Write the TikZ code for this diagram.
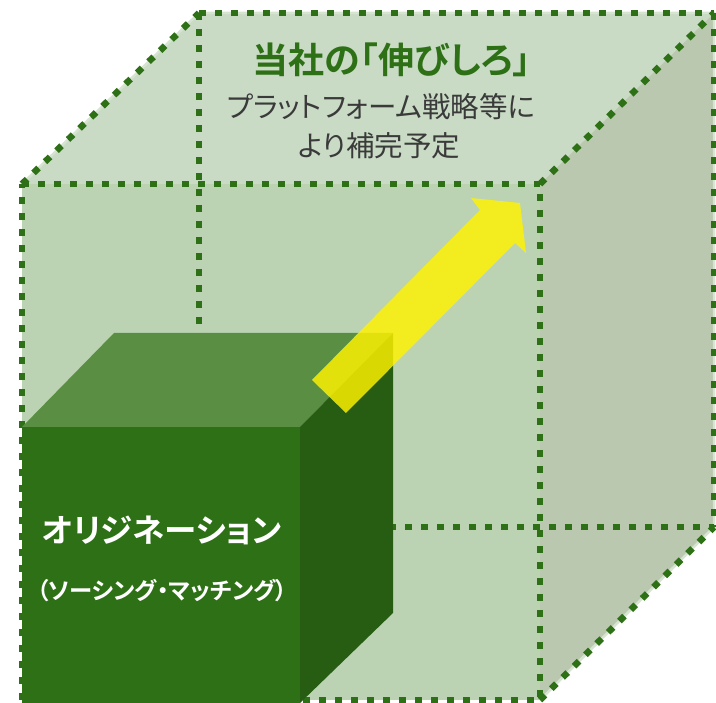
\documentclass[tikz,border=0pt]{standalone}
\usepackage{fontspec}
\newfontfamily\jp{Noto Sans CJK JP}[BoldFont={Noto Sans CJK JP Bold}, RawFeature=+palt]
\definecolor{linegreen}{RGB}{46,112,22}
\definecolor{topc}{RGB}{201,219,197}
\definecolor{frontc}{RGB}{187,211,179}
\definecolor{sidec}{RGB}{185,200,174}
\definecolor{lightedge}{RGB}{214,228,209}
\definecolor{cubefront}{RGB}{46,112,21}
\definecolor{cubetop}{RGB}{90,143,67}
\definecolor{cubeside}{RGB}{39,93,18}
\definecolor{bodytext}{RGB}{58,58,58}
\tikzset{
  dotedge/.style={draw=linegreen, line width=6.5pt, dash pattern=on 7pt off 9pt},
  softedge/.style={draw=lightedge, line width=2.5pt},
  titletext/.style={font=\jp\bfseries\fontsize{36}{40}\selectfont, text=linegreen, inner sep=0pt},
  bodytextstyle/.style={font=\jp\fontsize{28.5}{32}\selectfont, text=bodytext, inner sep=0pt},
  cubetext/.style={font=\jp\bfseries\fontsize{32.5}{36}\selectfont, text=white, inner sep=0pt},
  cubesub/.style={font=\jp\bfseries\fontsize{23.4}{28}\selectfont, text=white, inner sep=0pt}
}
\begin{document}
\begin{tikzpicture}[x=1pt,y=-1pt]
\useasboundingbox (0,0) rectangle (716,703);
% big cube corners
\coordinate (F1) at (22,184);
\coordinate (F2) at (540,184);
\coordinate (F3) at (540,700);
\coordinate (F4) at (22,700);
\coordinate (B1) at (199,13);
\coordinate (B2) at (714,13);
\coordinate (B3) at (714,527);
\coordinate (B4) at (199,527);
% faces
\fill[topc] (F1)--(B1)--(B2)--(F2)--cycle;
\fill[frontc] (F1) rectangle (F3);
\fill[sidec] (F2)--(B2)--(B3)--(F3)--cycle;
\draw[softedge] (F1)--(B1)--(B2)--(B3)--(F3);
% hidden/back edges
\draw[dotedge] (B1)--(B4)--(B3);
\draw[dotedge] (B4)--(F4);
% front and outer edges
\draw[dotedge] (F1)--(F2)--(F3)--(F4)--cycle;
\draw[dotedge] (F1)--(B1);
\draw[dotedge] (B1)--(B2);
\draw[dotedge] (F2)--(B2);
\draw[dotedge] (B2)--(B3);
\draw[dotedge] (F3)--(B3);
% small cube
\coordinate (S1) at (22,427);
\coordinate (S2) at (300,427);
\coordinate (S3) at (300,703);
\coordinate (S4) at (22,703);
\coordinate (T1) at (114,333);
\coordinate (T2) at (393,333);
\coordinate (T3) at (393,613);
\fill[cubetop] (S1)--(T1)--(T2)--(S2)--cycle;
\fill[cubeside] (S2)--(T2)--(T3)--(S3)--cycle;
\fill[cubefront] (S1) rectangle (S3);
% arrow
\fill[yellow, fill opacity=0.83] (312,380) -- (480,210) -- (471,198) -- (520,203) -- (526,253) -- (515,243) -- (346,413) -- cycle;
% texts
\node[titletext] (title) at (392,60) {当社の「伸びしろ」};
\node[bodytextstyle] (line1) at (381,107) {プラットフォーム戦略等に};
\node[bodytextstyle] (line2) at (379,146) {より補完予定};
\node[cubetext] (orig) at (162,530) {オリジネーション};
\node[cubesub] (sub) at (162,591) {（ソーシング・マッチング）};
\end{tikzpicture}
\end{document}
